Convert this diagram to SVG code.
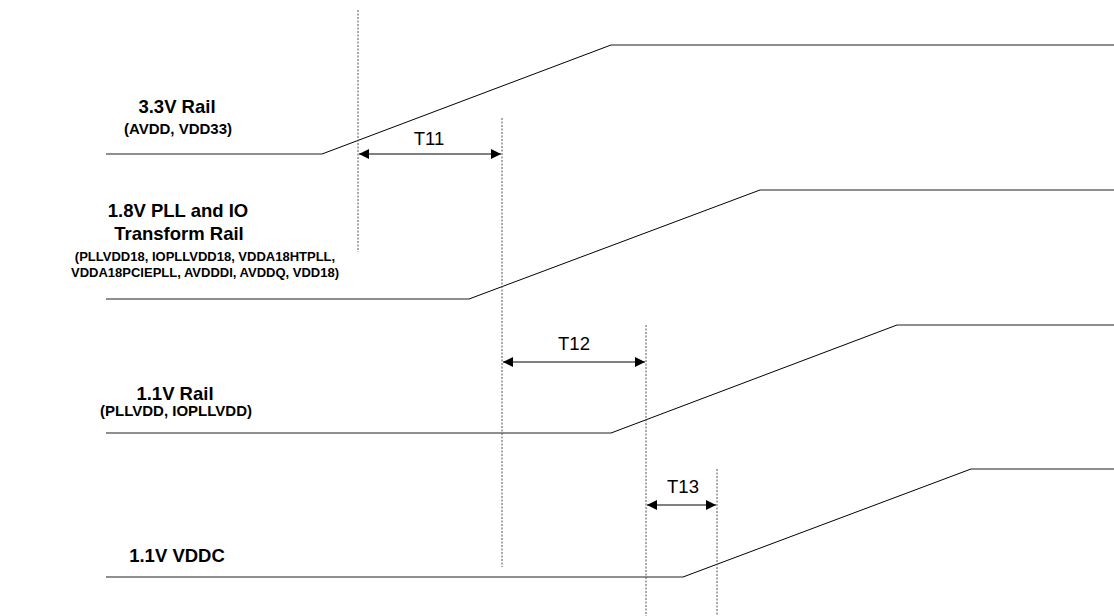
<svg xmlns="http://www.w3.org/2000/svg" width="1114" height="616" viewBox="0 0 1114 616">
<defs>
<style>
.h{stroke:#6a6a6a;stroke-width:1.6;fill:none}
.s{stroke:#000;stroke-width:1;fill:none}
.d{stroke:#555;stroke-width:1;stroke-dasharray:2 1.5;fill:none}
.a{stroke:#000;stroke-width:1;fill:none;marker-start:url(#ah);marker-end:url(#ah)}
.t{font-family:"Liberation Sans",Arial,sans-serif;fill:#000;text-anchor:middle}
.b{font-weight:bold;font-size:18.5px}
.sm{font-weight:bold;font-size:15px}
.xs{font-weight:bold;font-size:13px}
.lb{font-size:18.5px}
</style>
<marker id="ah" viewBox="0 0 10 10" refX="10" refY="5" markerWidth="11" markerHeight="10" markerUnits="userSpaceOnUse" orient="auto-start-reverse">
<path d="M0,0 L10,5 L0,10 z" fill="#000"/>
</marker>
</defs>
<rect width="1114" height="616" fill="#fff"/>
<g id="rail33">
<line class="h" x1="106" y1="154" x2="322" y2="154"/>
<line class="s" x1="322" y1="154" x2="611" y2="45"/>
<line class="h" x1="611" y1="45" x2="1114" y2="45"/>
<text class="t b" x="177" y="113">3.3V Rail</text>
<text class="t sm" x="178" y="134">(AVDD, VDD33)</text>
</g>
<g id="rail18">
<line class="h" x1="106" y1="299" x2="469" y2="299"/>
<line class="s" x1="469" y1="299" x2="760" y2="190"/>
<line class="h" x1="760" y1="190" x2="1114" y2="190"/>
<text class="t b" x="178" y="217">1.8V PLL and IO</text>
<text class="t b" x="179" y="240">Transform Rail</text>
<text class="t xs" x="205" y="261">(PLLVDD18, IOPLLVDD18, VDDA18HTPLL,</text>
<text class="t xs" x="205" y="277">VDDA18PCIEPLL, AVDDDI, AVDDQ, VDD18)</text>
</g>
<g id="rail11">
<line class="h" x1="106" y1="433" x2="611" y2="433"/>
<line class="s" x1="611" y1="433" x2="897" y2="325"/>
<line class="h" x1="897" y1="325" x2="1114" y2="325"/>
<text class="t b" x="175" y="400">1.1V Rail</text>
<text class="t sm" x="176" y="416">(PLLVDD, IOPLLVDD)</text>
</g>
<g id="vddc">
<line class="h" x1="106" y1="577" x2="683" y2="577"/>
<line class="s" x1="683" y1="577" x2="971" y2="469"/>
<line class="h" x1="971" y1="469" x2="1114" y2="469"/>
<text class="t b" x="177" y="562">1.1V VDDC</text>
</g>
<g id="connectors">
<line class="d" x1="358" y1="10" x2="358" y2="252"/>
<line class="d" x1="502" y1="118" x2="502" y2="567"/>
<line class="d" x1="646" y1="325" x2="646" y2="616"/>
<line class="d" x1="717" y1="469" x2="717" y2="616"/>
<line class="a" x1="359" y1="154" x2="501" y2="154"/>
<line class="a" x1="503" y1="362" x2="645" y2="362"/>
<line class="a" x1="647" y1="505" x2="716" y2="505"/>
</g>
<g id="labels">
<text class="t lb" x="429" y="145">T11</text>
<text class="t lb" x="574" y="350">T12</text>
<text class="t lb" x="683" y="493">T13</text>
</g>
</svg>
